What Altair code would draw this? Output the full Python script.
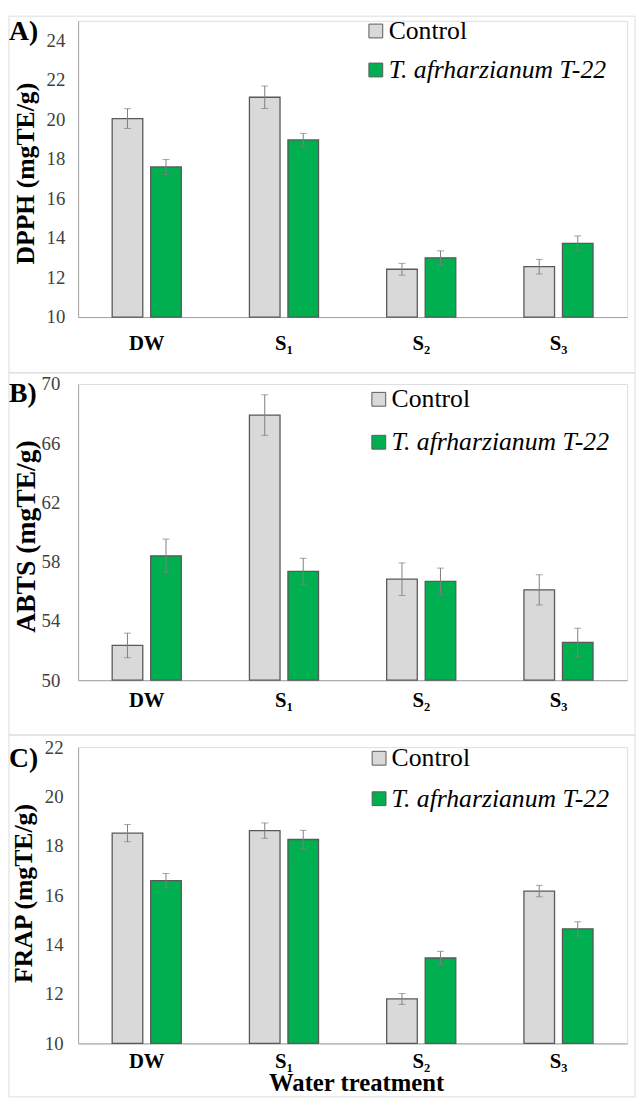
import altair as alt
import pandas as pd

treatments = ["DW", "S\u2081", "S\u2082", "S\u2083"]
series = ["Control", "T. afrharzianum T-22"]
series_colors = ["#d9d9d9", "#00b050"]

dpph_control = [20.05, 21.13, 12.42, 12.55]
dpph_control_err = [0.50, 0.57, 0.30, 0.37]
dpph_t22 = [17.60, 18.97, 13.00, 13.73]
dpph_t22_err = [0.38, 0.33, 0.35, 0.38]

abts_control = [52.35, 67.90, 56.82, 56.10]
abts_control_err = [0.83, 1.37, 1.10, 1.02]
abts_t22 = [58.40, 57.35, 56.67, 52.55]
abts_t22_err = [1.13, 0.88, 0.90, 0.96]

frap_control = [18.52, 18.62, 11.80, 16.17]
frap_control_err = [0.35, 0.31, 0.22, 0.23]
frap_t22 = [16.59, 18.26, 13.46, 14.64]
frap_t22_err = [0.29, 0.37, 0.27, 0.29]

FONT = "Liberation Serif"
W = 556
H = 300
one = pd.DataFrame({"a": [0]})


def make_df(ctrl, ctrl_err, t22, t22_err):
    rows = []
    for i, t in enumerate(treatments):
        for s, v, e in ((series[0], ctrl[i], ctrl_err[i]), (series[1], t22[i], t22_err[i])):
            rows.append({"treatment": t, "series": s, "value": v, "lo": v - e, "hi": v + e})
    return pd.DataFrame(rows)


def panel(df, ymin, ymax, ticks, ytitle, tfs, tx, ty, ylabpad,
          leg_sq_x, leg_tx, leg_rows, letter, letter_y, frame, xlabpad, xtitle=None):
    step = W / 4.0
    pi = 8.0 / 39.0
    po = (step / 39.0 - (2 - pi)) / 2.0
    axis_kw = dict(labelAngle=0, ticks=False, domainColor="#a0a0a0", labelFont=FONT,
                   labelFontSize=21, labelFontWeight="bold", labelColor="#000000",
                   labelBaseline="middle", labelPadding=xlabpad)
    if xtitle:
        xaxis = alt.Axis(title=xtitle, titleFont=FONT, titleFontSize=25,
                         titleFontWeight="bold", titleColor="#000000",
                         titleX=281.5, titleY=40, titleAlign="center",
                         titleBaseline="middle", **axis_kw)
    else:
        xaxis = alt.Axis(title=None, **axis_kw)
    x = alt.X("treatment:N", sort=treatments,
              scale=alt.Scale(paddingInner=0, paddingOuter=0), axis=xaxis)
    xo = alt.XOffset("series:N", sort=series,
                     scale=alt.Scale(paddingInner=pi, paddingOuter=po))
    yscale = alt.Scale(domain=[ymin, ymax], nice=False, zero=False)
    yaxis = alt.Axis(values=ticks, grid=False, ticks=False, domainColor="#a6a6a6",
                     labelFont=FONT, labelFontSize=19, labelColor="#404040",
                     labelPadding=ylabpad, labelFlush=False, labelOverlap=False,
                     title=ytitle, titleFont=FONT, titleFontSize=tfs, titleFontWeight="bold",
                     titleColor="#000000", titleAngle=270, titleX=tx, titleY=ty,
                     titleAlign="center", titleBaseline="middle")
    base = alt.Chart(df)
    bars = base.mark_bar(stroke="#595959", strokeWidth=1.3).encode(
        x=x, xOffset=xo,
        y=alt.Y("value:Q", scale=yscale, axis=yaxis),
        y2=alt.datum(ymin),
        color=alt.Color("series:N", sort=series,
                        scale=alt.Scale(domain=series, range=series_colors),
                        legend=None),
    )
    rule = base.mark_rule(color="#7f7f7f", strokeWidth=1).encode(
        x=x, xOffset=xo, y=alt.Y("lo:Q", scale=yscale), y2="hi:Q")
    cap_lo = base.mark_tick(color="#7f7f7f", size=7, thickness=1).encode(
        x=x, xOffset=xo, y=alt.Y("lo:Q", scale=yscale))
    cap_hi = base.mark_tick(color="#7f7f7f", size=7, thickness=1).encode(
        x=x, xOffset=xo, y=alt.Y("hi:Q", scale=yscale))
    fx0, fx1, fy0, fy1 = frame
    box = alt.Chart(one).mark_rect(fillOpacity=0, stroke="#dcdcdc", strokeWidth=1).encode(
        x=alt.value(fx0), x2=alt.value(fx1), y=alt.value(fy0), y2=alt.value(fy1))
    lab = alt.Chart(one).mark_text(text=letter, font=FONT, fontSize=28, fontWeight="bold",
                                   align="left", baseline="middle", color="#000000").encode(
        x=alt.value(-70), y=alt.value(letter_y))
    layers = [box, bars, rule, cap_lo, cap_hi, lab]
    for s, c, ry in zip(series, series_colors, leg_rows):
        layers.append(alt.Chart(one).mark_square(size=196, fill=c, fillOpacity=1,
                                                 stroke="#595959", strokeWidth=1).encode(
            x=alt.value(leg_sq_x), y=alt.value(ry)))
        layers.append(alt.Chart(one).mark_text(
            text=s, font=FONT, fontSize=26, align="left", baseline="middle",
            color="#000000", fontStyle=("normal" if s == "Control" else "italic")).encode(
            x=alt.value(leg_tx), y=alt.value(ry)))
    return alt.layer(*layers).properties(width=W, height=H)


SP = 67.8
pA = panel(make_df(dpph_control, dpph_control_err, dpph_t22, dpph_t22_err),
           10, 25, [10, 12, 14, 16, 18, 20, 22, 24], "DPPH (mgTE/g)", 26, -53.5, 154.3, 13.5,
           301.5, 314.5, [10.3, 49.8], "A)", 11.8, (-70, 564, -4.7, H + SP - 11.3), 27)
pB = panel(make_df(abts_control, abts_control_err, abts_t22, abts_t22_err),
           50, 70, list(range(50, 71, 2)), "ABTS (mgTE/g)", 28, -52.5, 154, 18.5,
           304.5, 317.5, [15.5, 59], "B)", 10, (-70, 564, -11.3, H + SP - 12.3), 21)
pC = panel(make_df(frap_control, frap_control_err, frap_t22, frap_t22_err),
           10, 22, list(range(10, 23, 2)), "FRAP (mgTE/g)", 26, -55, 147.7, 15.2,
           304.8, 317.5, [11.2, 52.2], "C)", 12.2, (-70, 564, -12.3, 354.2), 18.7,
           xtitle="Water treatment")

chart = alt.vconcat(pA, pB, pC, spacing=SP, bounds="flush").resolve_scale(
    color="independent", x="independent", y="independent", xOffset="independent"
).properties(padding=0).configure_view(strokeWidth=0).configure(font=FONT)

chart.save("out.html", embed_options={"renderer": "svg", "actions": False})
